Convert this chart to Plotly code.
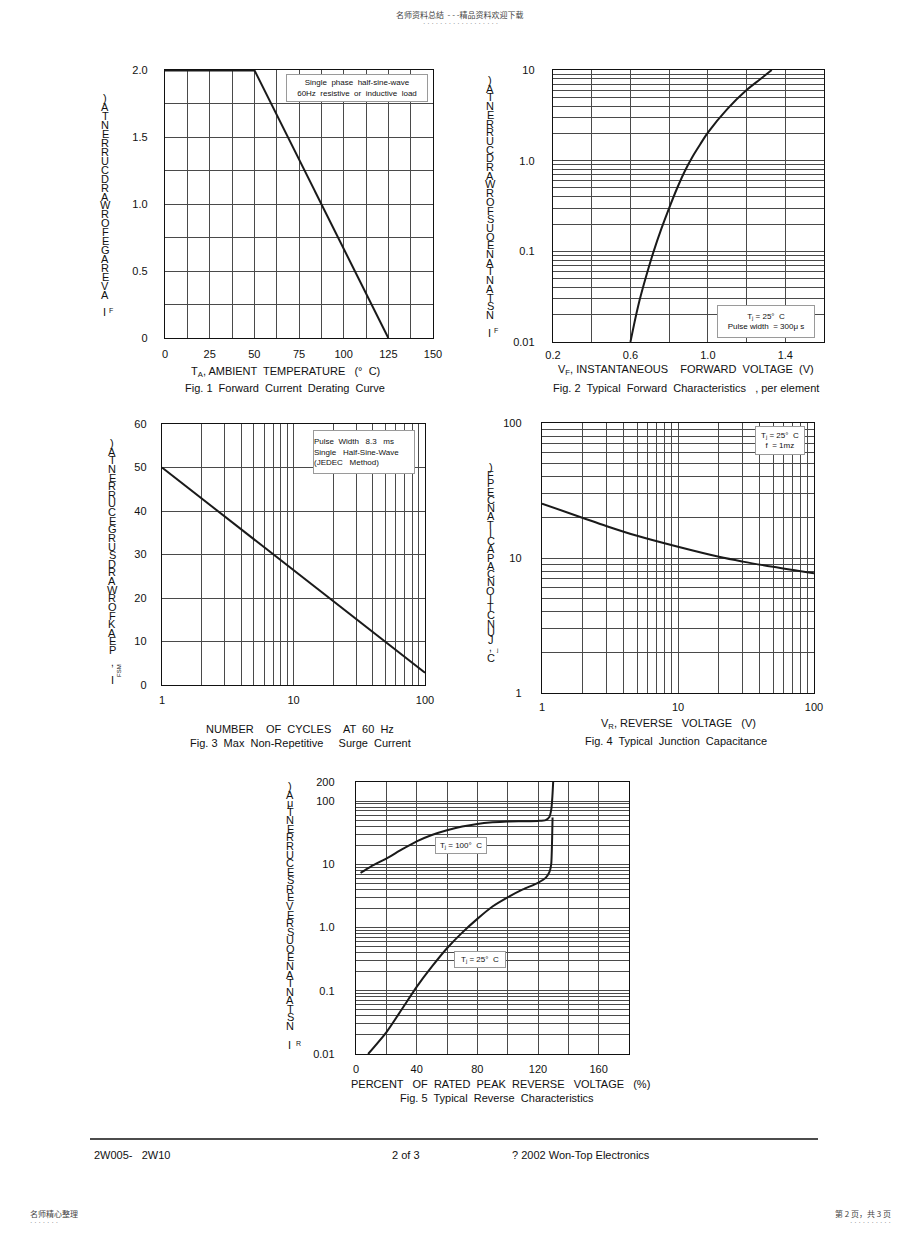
import numpy as np
import plotly.graph_objects as go

# page is 920x1235; the browser body adds an 8px margin, so the figure covers 912x1227
PAGE_OFF = 8
W, H = 920 - PAGE_OFF, 1235 - PAGE_OFF
FONT = "Liberation Sans, Arial, sans-serif"
CJK = "Noto Sans CJK SC"

# ---------------- data ----------------
# Fig 1: forward current derating
fig1_temp = [0, 50, 125]
fig1_current = [2.0, 2.0, 0.0]
fig1_xgrid = [0, 12.5, 25, 37.5, 50, 62.5, 75, 87.5, 100, 112.5, 125, 137.5, 150]
fig1_xticks = [0, 25, 50, 75, 100, 125, 150]
fig1_xlabels = ["0", "25", "50", "75", "100", "125", "150"]
fig1_ygrid = [0, 0.25, 0.5, 0.75, 1.0, 1.25, 1.5, 1.75, 2.0]
fig1_yticks = [0, 0.5, 1.0, 1.5, 2.0]
fig1_ylabels = ["0", "0.5", "1.0", "1.5", "2.0"]

# Fig 2: forward characteristics
fig2_vf = [0.6, 0.64, 0.68, 0.72, 0.76, 0.8, 0.84, 0.88, 0.92, 0.96, 1.0, 1.1, 1.2, 1.27, 1.33]
fig2_if = [0.01, 0.025, 0.052, 0.1, 0.178, 0.30, 0.49, 0.76, 1.1, 1.51, 2.04, 3.7, 6.0, 7.9, 10.0]
fig2_xgrid = [0.2, 0.4, 0.6, 0.8, 1.0, 1.2, 1.4, 1.6]
fig2_xticks = [0.2, 0.6, 1.0, 1.4]
fig2_xlabels = ["0.2", "0.6", "1.0", "1.4"]
fig2_yticks = [0.01, 0.1, 1.0, 10]
fig2_ylabels = ["0.01", "0.1", "1.0", "10"]

# Fig 3: surge current
fig3_cycles = [1, 2, 5, 10, 20, 50, 100]
fig3_ifsm = [50, 42.9, 33.4, 26.5, 19.4, 9.9, 2.8]
fig3_xticks = [1, 10, 100]
fig3_xlabels = ["1", "10", "100"]
fig3_yticks = [0, 10, 20, 30, 40, 50, 60]
fig3_ylabels = ["0", "10", "20", "30", "40", "50", "60"]

# Fig 4: junction capacitance
fig4_vr = [1, 2, 3, 5, 10, 20, 30, 50, 100]
fig4_cj = [25.3, 19.8, 17.2, 14.6, 12.1, 10.2, 9.4, 8.6, 7.7]
fig4_ticks = [1, 10, 100]
fig4_labels = ["1", "10", "100"]

# Fig 5: reverse characteristics
fig5_pct_100 = [3, 10, 20, 30, 40, 50, 60, 70, 80, 90, 100, 110, 120, 125, 127.5, 128.8, 129.5, 130]
fig5_ir_100 = [7.3, 9.3, 12.3, 17, 23, 29, 34.5, 39.5, 43.5, 46, 47.5, 48, 48.5, 50, 56, 75, 120, 200]
fig5_pct_25 = [8, 20, 30, 40, 50, 60, 70, 80, 90, 100, 110, 120, 125, 127.5, 128.7, 129.3, 129.6]
fig5_ir_25 = [0.01, 0.022, 0.05, 0.115, 0.24, 0.47, 0.83, 1.37, 2.15, 3.0, 4.0, 5.1, 6.1, 7.5, 10, 25, 55]
fig5_xgrid = [0, 20, 40, 60, 80, 100, 120, 140, 160, 180]
fig5_xticks = [0, 40, 80, 120, 160]
fig5_xlabels = ["0", "40", "80", "120", "160"]
fig5_yticks = [0.01, 0.1, 1.0, 10, 100, 200]
fig5_ylabels = ["0.01", "0.1", "1.0", "10", "100", "200"]


def log_grid(lo_exp, hi_exp, extra=None):
    vals = []
    for e in range(lo_exp, hi_exp):
        for m in range(1, 10):
            vals.append(m * 10 ** e)
    vals.append(10 ** hi_exp)
    if extra:
        vals += extra
    return vals


def px_x(x):
    return (x - PAGE_OFF) / W


def px_y(y):
    return 1 - (y - PAGE_OFF) / H


panels = {
    1: dict(x=(165, 433), y=(70, 338)),
    2: dict(x=(553, 824), y=(70, 342)),
    3: dict(x=(162, 425), y=(424, 685)),
    4: dict(x=(542, 814), y=(423, 693)),
    5: dict(x=(356, 629), y=(782, 1054)),
}

GRID = "#4a4a4a"


def axis(standoff, ticks, labels, grid):
    return dict(
        showline=True, linecolor="#111", linewidth=1.2, mirror=True,
        showgrid=True, gridcolor=GRID, gridwidth=1, zeroline=False,
        ticks="", tickfont=dict(family=FONT, size=11, color="#111"),
        ticklabelstandoff=standoff, fixedrange=True,
        tickmode="array", tickvals=ticks, ticktext=labels,
        minor=dict(tickmode="array", tickvals=grid, showgrid=True,
                   gridcolor=GRID, gridwidth=1, ticks=""),
    )


fig = go.Figure()
LINE = "#1a1a1a"

fig.add_trace(go.Scatter(x=fig1_temp[:2], y=fig1_current[:2], mode="lines",
                         line=dict(color=LINE, width=3), xaxis="x", yaxis="y"))
fig.add_trace(go.Scatter(x=fig1_temp[1:], y=fig1_current[1:], mode="lines",
                         line=dict(color=LINE, width=2), xaxis="x", yaxis="y"))
fig.add_trace(go.Scatter(x=fig2_vf, y=fig2_if, mode="lines", line_shape="spline",
                         line=dict(color=LINE, width=2), xaxis="x2", yaxis="y2"))
fig.add_trace(go.Scatter(x=fig3_cycles, y=fig3_ifsm, mode="lines",
                         line=dict(color=LINE, width=2), xaxis="x3", yaxis="y3"))
fig.add_trace(go.Scatter(x=fig4_vr, y=fig4_cj, mode="lines", line_shape="spline",
                         line=dict(color=LINE, width=2), xaxis="x4", yaxis="y4"))
fig.add_trace(go.Scatter(x=fig5_pct_100, y=fig5_ir_100, mode="lines",
                         line=dict(color=LINE, width=2, shape="spline", smoothing=0.6),
                         xaxis="x5", yaxis="y5"))
fig.add_trace(go.Scatter(x=fig5_pct_25, y=fig5_ir_25, mode="lines",
                         line=dict(color=LINE, width=2, shape="spline", smoothing=0.6),
                         xaxis="x5", yaxis="y5"))

lay = dict(width=W, height=H,
           margin=dict(l=0, r=0, t=0, b=0, pad=0, autoexpand=False),
           paper_bgcolor="white", plot_bgcolor="white", showlegend=False,
           hovermode=False)


def dom(p):
    x0, x1 = panels[p]["x"]
    y0, y1 = panels[p]["y"]
    return [px_x(x0), px_x(x1)], [px_y(y1), px_y(y0)]


xd, yd = dom(1)
lay["xaxis"] = dict(axis(6, fig1_xticks, fig1_xlabels, fig1_xgrid), domain=xd, anchor="y", range=[0, 150])
lay["yaxis"] = dict(axis(14, fig1_yticks, fig1_ylabels, fig1_ygrid), domain=yd, anchor="x", range=[0, 2.0])

xd, yd = dom(2)
lay["xaxis2"] = dict(axis(3, fig2_xticks, fig2_xlabels, fig2_xgrid), domain=xd, anchor="y2", range=[0.2, 1.6])
lay["yaxis2"] = dict(axis(15, fig2_yticks, fig2_ylabels, log_grid(-2, 1)), domain=yd, anchor="x2",
                     type="log", range=[-2, 1])

xd, yd = dom(3)
lay["xaxis3"] = dict(axis(5, fig3_xticks, fig3_xlabels, log_grid(0, 2)), domain=xd, anchor="y3",
                     type="log", range=[0, 2])
lay["yaxis3"] = dict(axis(12, fig3_yticks, fig3_ylabels, fig3_yticks), domain=yd, anchor="x3", range=[0, 60])

xd, yd = dom(4)
lay["xaxis4"] = dict(axis(4, fig4_ticks, fig4_labels, log_grid(0, 2)), domain=xd, anchor="y4",
                     type="log", range=[0, 2])
lay["yaxis4"] = dict(axis(17, fig4_ticks, fig4_labels, log_grid(0, 2)), domain=yd, anchor="x4",
                     type="log", range=[0, 2])

xd, yd = dom(5)
lay["xaxis5"] = dict(axis(5, fig5_xticks, fig5_xlabels, fig5_xgrid), domain=xd, anchor="y5", range=[0, 180])
lay["yaxis5"] = dict(axis(18, fig5_yticks, fig5_ylabels, log_grid(-2, 2, extra=[200])), domain=yd,
                     anchor="x5", type="log", range=[-2, np.log10(200)])

fig.update_layout(**lay)

ann = []


def text(t, x, y, size=11, xanchor="center", color="#111", family=FONT, **kw):
    ann.append(dict(text=t, x=px_x(x), y=px_y(y), xref="paper", yref="paper",
                    showarrow=False, xanchor=xanchor, yanchor="middle",
                    font=dict(family=family, size=size, color=color), **kw))


def box(t, cx, cy, w, h, align="center"):
    ann.append(dict(text=t, x=px_x(cx), y=px_y(cy), xref="paper", yref="paper",
                    showarrow=False, xanchor="center", yanchor="middle",
                    width=w, height=h, align=align, bgcolor="white",
                    bordercolor="#9a9a9a", borderwidth=1, borderpad=0,
                    font=dict(family=FONT, size=8, color="#111")))


def stacked(chars, x, y0, y1, size=11):
    n = len(chars)
    step = (y1 - y0) / (n - 1)
    for i, c in enumerate(chars):
        text(c, x, y0 + i * step, size=size)


text("T<sub>A</sub>, AMBIENT  TEMPERATURE   (°  C)", 285, 372)
text("Fig. 1  Forward  Current  Derating  Curve", 285, 388)
text("V<sub>F</sub>, INSTANTANEOUS    FORWARD  VOLTAGE  (V)", 686, 370)
text("Fig. 2  Typical  Forward  Characteristics   , per element", 686, 388)
text("NUMBER    OF  CYCLES    AT  60  Hz", 300, 729)
text("Fig. 3  Max  Non-Repetitive     Surge  Current", 300, 743)
text("V<sub>R</sub>, REVERSE   VOLTAGE   (V)", 678, 724)
text("Fig. 4  Typical  Junction  Capacitance", 676, 741)
text("PERCENT   OF  RATED  PEAK  REVERSE   VOLTAGE   (%)", 500, 1084)
text("Fig. 5  Typical  Reverse  Characteristics", 497, 1098)

stacked(")ATNERRUCDRAWROFEGAREVA", 105, 98, 295)
text("I", 104, 312); text("F", 111, 310, size=7)

stacked(")ATNERRUCDRAWROFSUOENATNATSN", 490, 80, 315)
text("I", 489, 333); text("F", 496, 331, size=7)

stacked(")ATNERRUCEGRUSDRAWROFKAEP", 112, 443, 650)
text(",", 112, 662, size=10)
text("I", 112, 680)
text("FSM", 119, 671, size=6, textangle=-90)

stacked(")FPECNATICAPACNOITCNUJ", 491, 467, 640)
text(",", 491, 647, size=10); text("j", 497, 650, size=6)
text("C", 491, 658)

stacked(")AμTNERRUCESREVERSUOENATNATSN", 290, 786, 1026)
text("I", 289, 1045); text("R", 298, 1043, size=7)

box("Single  phase  half-sine-wave<br>60Hz  resistive  or  inductive  load", 357, 88, 140, 26)
box("T<sub>j</sub> = 25°  C<br>Pulse width  = 300μ s", 766, 321, 96, 31)
box("Pulse  Width   8.3   ms<br>Single   Half-Sine-Wave<br>(JEDEC   Method)", 364, 452, 100, 42, align="left")
box("T<sub>j</sub> = 25°  C<br>f  = 1mz", 780, 440, 48, 27)
box("T<sub>j</sub> = 100°  C", 461, 845, 50, 15)
box("T<sub>j</sub> = 25°  C", 480, 959, 50, 15)

text("2W005-   2W10", 92, 1155, xanchor="left")
text("2 of 3", 390, 1155, xanchor="left")
text("? 2002 Won-Top Electronics", 510, 1155, xanchor="left")

text("名师资料总结  - - -精品资料欢迎下载", 460, 14, size=8, color="#444", family=CJK)
text(" ".join(["·"] * 18), 460, 23, size=7, color="#777")
text("名师精心整理", 28, 1213, size=8, color="#444", family=CJK, xanchor="left")
text(" ".join(["·"] * 7), 28, 1222, size=7, color="#777", xanchor="left")
text("第 2 页，共 3 页", 893, 1213, size=8, color="#444", family=CJK, xanchor="right")
text(" ".join(["·"] * 10), 893, 1222, size=7, color="#777", xanchor="right")

fig.update_layout(annotations=ann)

fig.add_shape(type="line", xref="paper", yref="paper",
              x0=px_x(90), x1=px_x(818), y0=px_y(1139), y1=px_y(1139),
              line=dict(color="#111", width=1.5))

fig.write_html("out.html", config={"displayModeBar": False, "staticPlot": True})
